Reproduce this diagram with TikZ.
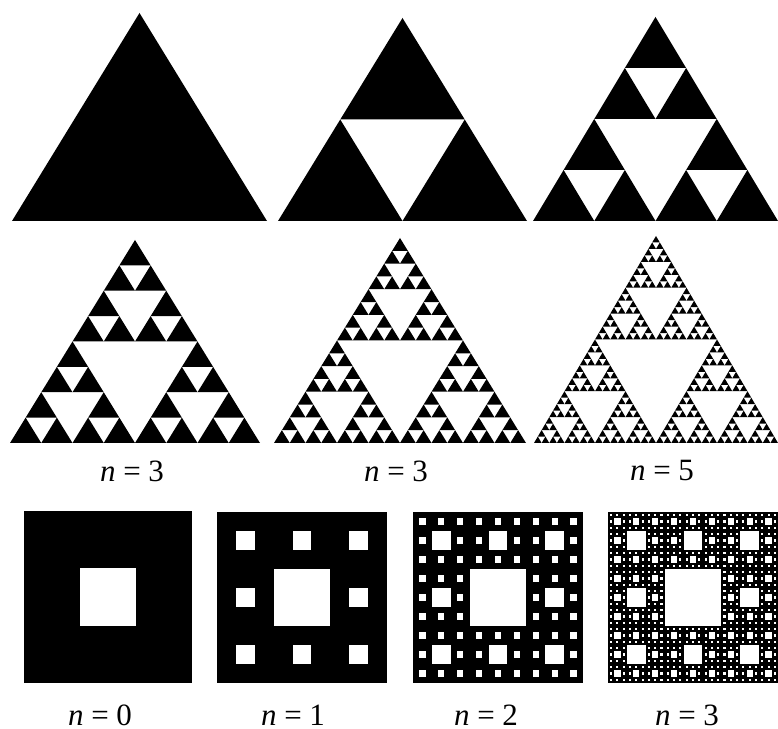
\documentclass[tikz,border=0pt]{standalone}
\usepackage{fontspec}
\setmainfont{Liberation Serif}

% Sierpinski triangle: level, x, y (lower left), width, height
\newcommand{\sierptri}[5]{%
  \ifnum#1=0
    \fill (#2,#3) -- ++(#4,0) -- ++(-#4/2,#5) -- cycle;
  \else
    \begingroup
    \pgfmathtruncatemacro\tlev{#1-1}%
    \pgfmathsetmacro\thw{#4/2}%
    \pgfmathsetmacro\thh{#5/2}%
    \pgfmathsetmacro\txr{#2+#4/2}%
    \pgfmathsetmacro\txt{#2+#4/4}%
    \pgfmathsetmacro\tyt{#3+#5/2}%
    \edef\sknext{%
      \noexpand\sierptri{\tlev}{#2}{#3}{\thw}{\thh}%
      \noexpand\sierptri{\tlev}{\txr}{#3}{\thw}{\thh}%
      \noexpand\sierptri{\tlev}{\txt}{\tyt}{\thw}{\thh}}%
    \sknext
    \endgroup
  \fi}

% holes of the Sierpinski carpet: level, x, y (lower left), width, height
\newcommand{\carpet}[5]{%
  \begingroup
  \pgfmathsetmacro\ctw{#4/3}%
  \pgfmathsetmacro\cth{#5/3}%
  \fill[white] (#2+\ctw,#3+\cth) rectangle ++(\ctw,\cth);
  \ifnum#1>1
    \pgfmathtruncatemacro\clev{#1-1}%
    \foreach \i in {0,1,2}{
      \foreach \j in {0,1,2}{
        \ifnum\numexpr\i*10+\j\relax=11 \else
          \pgfmathsetmacro\cxx{#2+\i*\ctw}%
          \pgfmathsetmacro\cyy{#3+\j*\cth}%
          \edef\sknext{\noexpand\carpet{\clev}{\cxx}{\cyy}{\ctw}{\cth}}%
          \sknext
        \fi}}
  \fi
  \endgroup}

\begin{document}
\begin{tikzpicture}[x=0.5pt,y=0.5pt,
    lbl/.style={inner sep=0pt,font=\fontsize{15.5}{18}\selectfont}]
    \useasboundingbox (0,0) rectangle (778,729);

    % top row
    \sierptri{0}{12}{508}{255}{208}
    \sierptri{1}{278}{508}{249}{203}
    \sierptri{2}{533}{508}{245}{204}

    % middle row
    \sierptri{3}{10}{286}{250}{203}
    \sierptri{4}{274}{286}{252}{205}
    \sierptri{5}{534}{286}{244}{207}
    \node[lbl] (triA) at (132,258) {\textit{n} = 3};
    \node[lbl] (triB) at (396,258) {\textit{n} = 3};
    \node[lbl] (triC) at (662,258) {\textit{n} = 5};

    % carpets
    \fill (24,46) rectangle ++(168,172);
    \carpet{1}{24}{46}{168}{172}
    \fill (217,46) rectangle ++(170,171);
    \carpet{2}{217}{46}{170}{171}
    \fill (413,46) rectangle ++(170,171);
    \carpet{3}{413}{46}{170}{171}
    \fill (608,46) rectangle ++(170,171);
    \carpet{4}{608}{46}{170}{171}
    \node[lbl] (carA) at (100,14) {\textit{n} = 0};
    \node[lbl] (carB) at (293,14) {\textit{n} = 1};
    \node[lbl] (carC) at (486,14) {\textit{n} = 2};
    \node[lbl] (carD) at (687,14) {\textit{n} = 3};
\end{tikzpicture}
\end{document}
